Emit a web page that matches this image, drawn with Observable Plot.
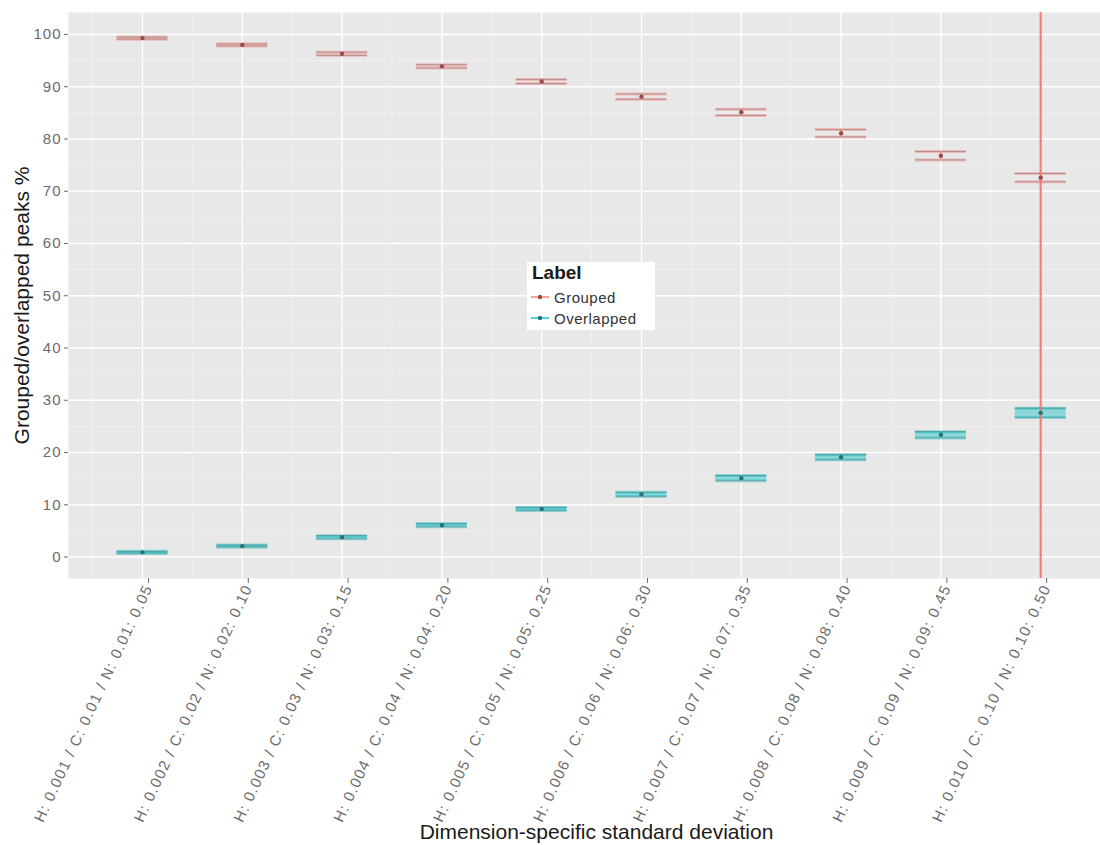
<!DOCTYPE html>
<html>
<head>
<meta charset="utf-8">
<script src="https://cdn.jsdelivr.net/npm/d3@7"></script>
<script src="https://cdn.jsdelivr.net/npm/@observablehq/plot@0.6"></script>
<style>
  html, body { margin: 0; padding: 0; background: #fff; }
  #wrap { position: relative; width: 1100px; height: 845px; font-family: "Liberation Sans", Arial, sans-serif; }
  #wrap svg { font-family: "Liberation Sans", Arial, sans-serif; }
  g[aria-label="x-axis tick label"] text { letter-spacing: 1.3px; }
  g[aria-label="y-axis tick label"] text { letter-spacing: 1px; }
  #legend { position: absolute; left: 527px; top: 262px; width: 128px; height: 68px; background: #fff; }
  #legend .title { position: absolute; left: 5px; top: 0px; font-size: 19px; font-weight: bold; color: #1a1a1a; }
  #legend .row { position: absolute; left: 2px; height: 20px; display: flex; align-items: center; font-size: 15px; color: #333; letter-spacing: 0.5px; }
  #legend .row svg { margin-right: 3px; }
</style>
</head>
<body>
<div id="wrap"></div>
<script>
const categories = [
  "H: 0.001 / C: 0.01 / N: 0.01: 0.05",
  "H: 0.002 / C: 0.02 / N: 0.02: 0.10",
  "H: 0.003 / C: 0.03 / N: 0.03: 0.15",
  "H: 0.004 / C: 0.04 / N: 0.04: 0.20",
  "H: 0.005 / C: 0.05 / N: 0.05: 0.25",
  "H: 0.006 / C: 0.06 / N: 0.06: 0.30",
  "H: 0.007 / C: 0.07 / N: 0.07: 0.35",
  "H: 0.008 / C: 0.08 / N: 0.08: 0.40",
  "H: 0.009 / C: 0.09 / N: 0.09: 0.45",
  "H: 0.010 / C: 0.10 / N: 0.10: 0.50"
];
const seriesNames = ["Grouped", "Overlapped"];
const seriesColors = ["#F8766D", "#00BFC4"];
const seriesDotColors = ["#9a4a46", "#2f6f71"];

const groupedMean = [99.3, 98.0, 96.3, 93.9, 91.0, 88.1, 85.1, 81.1, 76.8, 72.6];
const groupedLow  = [99.1, 97.8, 96.0, 93.6, 90.6, 87.6, 84.5, 80.4, 76.0, 71.8];
const groupedHigh = [99.5, 98.2, 96.6, 94.2, 91.4, 88.6, 85.7, 81.8, 77.6, 73.4];

const overlappedMean = [0.9, 2.1, 3.8, 6.1, 9.2, 12.0, 15.1, 19.1, 23.4, 27.6];
const overlappedLow  = [0.7, 1.9, 3.5, 5.8, 8.9, 11.6, 14.6, 18.6, 22.8, 26.7];
const overlappedHigh = [1.1, 2.3, 4.1, 6.4, 9.5, 12.4, 15.6, 19.6, 24.0, 28.5];

// category whose Grouped spread extends beyond the panel
const fullSpreadCategories = [categories[9]];

const yMajor = [0, 10, 20, 30, 40, 50, 60, 70, 80, 90, 100];
const yMinor = [5, 15, 25, 35, 45, 55, 65, 75, 85, 95];

const xTitle = "Dimension-specific standard deviation";
const yTitle = "Grouped/overlapped peaks %";

const rows = [];
categories.forEach((c, i) => {
  rows.push({cat: c, label: "Grouped", mean: groupedMean[i], low: groupedLow[i], high: groupedHigh[i]});
  rows.push({cat: c, label: "Overlapped", mean: overlappedMean[i], low: overlappedLow[i], high: overlappedHigh[i]});
});
const overlappedRows = rows.filter(d => d.label === "Overlapped");

const chart = Plot.plot({
  width: 1100,
  height: 845,
  marginLeft: 68,
  marginRight: 0,
  marginTop: 12,
  marginBottom: 267,
  x: {type: "band", domain: categories, range: [116.5, 1065.7], paddingInner: 0.489, paddingOuter: 0, round: false},
  y: {domain: [-4.1, 104.2]},
  color: {domain: seriesNames, range: seriesColors},
  marks: [
    Plot.frame({fill: "#E8E8E8", stroke: null}),
    Plot.ruleY(yMinor, {stroke: "#F3F3F3", strokeWidth: 0.7}),
    Plot.ruleY(yMajor, {stroke: "#ffffff", strokeWidth: 1.4}),
    Plot.ruleX(categories, {stroke: "#F3F3F3", strokeWidth: 0.7, dx: -50}),
    Plot.ruleX(categories, {stroke: "#ffffff", strokeWidth: 1.4}),
    Plot.barY(overlappedRows, {x: "cat", y1: "low", y2: "high", fill: "#00BFC4", fillOpacity: 0.4}),
    Plot.tickY(rows, {x: "cat", y: "low", stroke: "label", strokeWidth: 3, strokeOpacity: 0.4}),
    Plot.tickY(rows, {x: "cat", y: "high", stroke: "label", strokeWidth: 3, strokeOpacity: 0.4}),
    Plot.tickY(rows, {x: "cat", y: "low", stroke: "#555", strokeWidth: 0.8, strokeOpacity: 0.5}),
    Plot.tickY(rows, {x: "cat", y: "high", stroke: "#555", strokeWidth: 0.8, strokeOpacity: 0.5}),
    Plot.ruleX(rows, {x: "cat", y1: "low", y2: "high", stroke: "label", strokeWidth: 1}),
    Plot.ruleX(fullSpreadCategories, {stroke: "#F8766D", strokeWidth: 2.2, strokeOpacity: 0.95}),
    Plot.dot(rows, {x: "cat", y: "mean", r: 2.2, fill: d => d.label === "Grouped" ? seriesDotColors[0] : seriesDotColors[1], stroke: null}),
    Plot.axisY(yMajor, {tickSize: 4, tickPadding: 3, fontSize: 15, color: "#6b6b6b", label: null}),
    Plot.axisX({tickRotate: -65, tickSize: 5, tickPadding: 2, fontSize: 15, color: "#6b6b6b", label: null, dx: 6}),
    Plot.text([yTitle], {frameAnchor: "left", textAnchor: "middle", rotate: -90, dx: -46, dy: 10, fontSize: 21, fill: "#1a1a1a"}),
    Plot.text([xTitle], {frameAnchor: "bottom", textAnchor: "middle", dy: 260, dx: 12, fontSize: 21, fill: "#1a1a1a"})
  ]
});

const wrap = document.getElementById("wrap");
wrap.appendChild(chart);

// legend
const legend = document.createElement("div");
legend.id = "legend";
let html = `<div class="title">Label</div>`;
seriesNames.forEach((name, i) => {
  html += `<div class="row" style="top:${25 + i * 21}px"><svg width="22" height="12"><line x1="2" x2="20" y1="6" y2="6" stroke="${seriesColors[i]}" stroke-width="2" stroke-opacity="0.7"/><circle cx="11" cy="6" r="2.2" fill="${seriesDotColors[i]}"/></svg>${name}</div>`;
});
legend.innerHTML = html;
wrap.appendChild(legend);
</script>
</body>
</html>
